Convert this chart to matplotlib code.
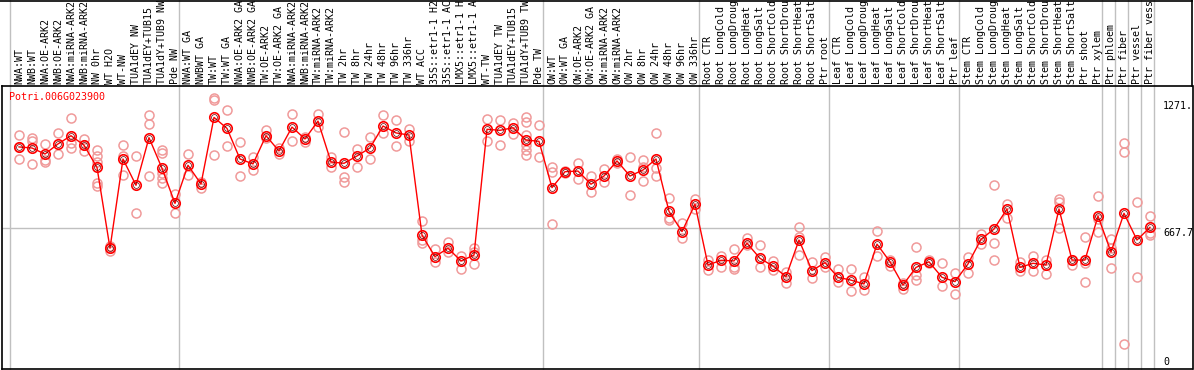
import matplotlib.pyplot as plt
from matplotlib.transforms import blended_transform_factory

gene = "Potri.006G023900"

# labels as they appear in the header (cut to 14 characters)
labels = [
    "NWA:WT", "NWB:WT", "NWA:OE-ARK2", "NWB:OE-ARK2", "NWA:miRNA-ARK2", "NWB:miRNA-ARK2",
    "NW 0hr", "WT H2O", "WT-NW", "TUA1dEY NW", "TUA1dEY+TUB15", "TUA1dY+TUB9 NW", "Pde NW",
    "NWA:WT GA", "NWBWT GA", "TW:WT", "TW:WT GA", "NWA:OE-ARK2 GA", "NWB:OE-ARK2 GA",
    "TW:OE-ARK2", "TW:OE-ARK2 GA", "NWA:miRNA-ARK2", "NWB:miRNA-ARK2", "TW:miRNA-ARK2",
    "TW:miRNA-ARK2", "TW 2hr", "TW 8hr", "TW 24hr", "TW 48hr", "TW 96hr", "TW 336hr", "WT ACC",
    "35S::etr1-1 H2", "35S::etr1-1 AC", "LMX5::etr1-1 H", "LMX5::etr1-1 A", "WT-TW",
    "TUA1dEY TW", "TUA1dEY+TUB15", "TUA1dY+TUB9 TW", "Pde TW",
    "OW:WT", "OW:WT GA", "OW:OE-ARK2", "OW:OE-ARK2 GA", "OW:miRNA-ARK2", "OW:miRNA-ARK2",
    "OW 2hr", "OW 8hr", "OW 24hr", "OW 48hr", "OW 96hr", "OW 336hr",
    "Root CTR", "Root LongCold", "Root LongDroug", "Root LongHeat", "Root LongSalt",
    "Root ShortCold", "Root ShortDrou", "Root ShortHeat", "Root ShortSalt", "Ptr root",
    "Leaf CTR", "Leaf LongCold", "Leaf LongDroug", "Leaf LongHeat", "Leaf LongSalt",
    "Leaf ShortCold", "Leaf ShortDrou", "Leaf ShortHeat", "Leaf ShortSalt", "Ptr leaf",
    "Stem CTR", "Stem LongCold", "Stem LongDroug", "Stem LongHeat", "Stem LongSalt",
    "Stem ShortCold", "Stem ShortDrou", "Stem ShortHeat", "Stem ShortSalt", "Ptr shoot",
    "Ptr xylem", "Ptr phloem", "Ptr fiber", "Ptr vessel", "Ptr fiber vess",
]

group_sizes = [13, 28, 12, 10, 10, 11, 1, 1, 1, 1]

means = [
    1044, 1039, 1011, 1058, 1096, 1052, 949, 574, 988, 866, 1087, 945, 782,
    959, 872, 1181, 1130, 988, 965, 1096, 1025, 1136, 1081, 1164, 974, 968, 1002, 1039,
    1141, 1109, 1099, 635, 535, 574, 515, 542, 1126, 1121, 1133, 1076, 1070,
    855, 929, 932, 871, 909, 979, 909, 937, 988, 745, 651, 778,
    496, 518, 515, 597, 527, 491, 442, 612, 470, 507,
    439, 426, 408, 593, 511, 403, 485, 511, 439, 419,
    501, 615, 663, 756, 485, 504, 496, 756, 519, 519, 723,
    556, 736, 612, 671,
]

replicates = [
    [1099, 1044, 988], [1084, 1071, 965], [1058, 983, 975], [1109, 1011],
    [1178, 1061, 1038], [1079, 1052, 1026], [1030, 1002, 975, 875, 863], [584, 574, 561],
    [1053, 1002, 914], [1002, 736], [1192, 1149, 910], [1030, 1017, 922, 898, 878], [826, 736],
    [1011, 914], [883, 855], [1270, 1262, 1007], [1215, 1048], [1067, 910], [999, 937],
    [1123, 1084], [1038, 1011], [1196, 1071], [1091, 1067], [1196, 1138], [996, 949],
    [1112, 906, 883], [1034, 949], [1091, 988], [1192, 1107], [1169, 1048], [1127, 1071],
    [700, 612, 597], [570, 511], [604, 558], [539, 477], [574, 558, 501],
    [1173, 1071], [1169, 1053], [1156, 1104], [1181, 1161, 1099, 1053, 1030, 1007], [1146, 998],
    [949, 929, 686], [934, 929, 924], [969, 895], [910, 833], [942, 880], [988, 970],
    [997, 819], [983, 952, 884], [1107, 945, 910], [807, 713, 705], [690, 620], [804, 756],
    [519, 473], [539, 485], [570, 485, 477], [620, 589], [589, 488], [515, 473], [465, 411],
    [674, 627, 542], [511, 434], [535, 488],
    [476, 419], [476, 377], [439, 380], [654, 538], [519, 491], [411, 383], [581, 450, 426],
    [519, 504], [507, 399], [458, 360],
    [532, 460], [640, 592], [866, 597, 519], [779, 714], [511, 468], [538, 470], [519, 453],
    [801, 790, 666], [519, 496], [625, 507, 417], [816, 708, 648],
    [615, 574, 481], [1062, 1021, 128], [787, 439], [723, 646, 635],
]

ref_line = 667.7
axis_max = 1271
mono = "DejaVu Sans Mono"
fs = 7.2

W, H = 1194, 370
fig = plt.figure(figsize=(W / 100, H / 100), dpi=100)
ax = fig.add_axes([1.5 / W, 1 - 369 / H, 1191 / W, 283 / H])

# replicate points
rx, ry = [], []
for i, reps in enumerate(replicates):
    rx += [i] * len(reps)
    ry += reps
ax.plot(rx, ry, linestyle="none", marker="o", ms=6.5, mfc="none",
        mec="#f09a9a", mew=1.1, zorder=3)

# mean line
xs = list(range(len(means)))
ax.plot(xs, means, color="#ff0000", lw=1, zorder=4)
ax.plot(xs, means, linestyle="none", marker="o", ms=6.8, mfc="none",
        mec="#ff0000", mew=1.2, zorder=5)
ax.plot(xs, means, linestyle="none", marker="o", ms=4.2, mfc="none",
        mec="#600000", mew=0.5, zorder=6)

# group separators across the whole figure height
trans = blended_transform_factory(ax.transData, fig.transFigure)
b = 0
bounds = [0]
for g in group_sizes:
    b += g
    bounds.append(b)
for bd in bounds:
    ax.plot([bd - 0.68, bd - 0.68], [0, 1], transform=trans, color="#c0c0c0",
            lw=1, clip_on=False, zorder=0)

ax.hlines(ref_line, -1.4, 87.8, color="#c0c0c0", lw=1, zorder=1)

ax.set_xlim(-1.346, 90.27)
ax.set_ylim(13.5, 1326.7)
ax.set_xticks([])
ax.set_yticks([])
for s in ["left", "bottom", "top", "right"]:
    ax.spines[s].set_color("black")
    ax.spines[s].set_linewidth(1.2)

# right border continues through label area, top border
fig.add_artist(plt.Line2D([1192 / W, 1192 / W], [1 - 86 / H, 1], color="black", lw=1.2))
fig.add_artist(plt.Line2D([0, 1192 / W], [1 - 0.5 / H, 1 - 0.5 / H], color="black", lw=1.2))

# sample labels on top
for i, lab in enumerate(labels):
    ax.annotate(lab, xy=(i, 1), xycoords=("data", "axes fraction"),
                xytext=(0, 2.5), textcoords="offset pixels", rotation=90,
                ha="center", va="bottom", family=mono, fontsize=fs,
                annotation_clip=False)

ax.annotate(gene, xy=(0, 1), xycoords="axes fraction", xytext=(7.8, -10.7),
            textcoords="offset pixels", ha="left", va="center", color="#ff0000",
            family=mono, fontsize=fs)

# right-hand value labels
ax.annotate("1271.", xy=(88.0, axis_max), xytext=(0, -8.4), textcoords="offset pixels",
            ha="left", va="center", family=mono, fontsize=fs, annotation_clip=False)
ax.annotate("667.7", xy=(88.0, ref_line), xytext=(0, -4.7), textcoords="offset pixels",
            ha="left", va="center", family=mono, fontsize=fs, annotation_clip=False)
ax.annotate("0", xy=(88.0, 0), xytext=(0, 10), textcoords="offset pixels",
            ha="left", va="center", family=mono, fontsize=fs, annotation_clip=False)

fig.savefig("out.png", dpi=100)
